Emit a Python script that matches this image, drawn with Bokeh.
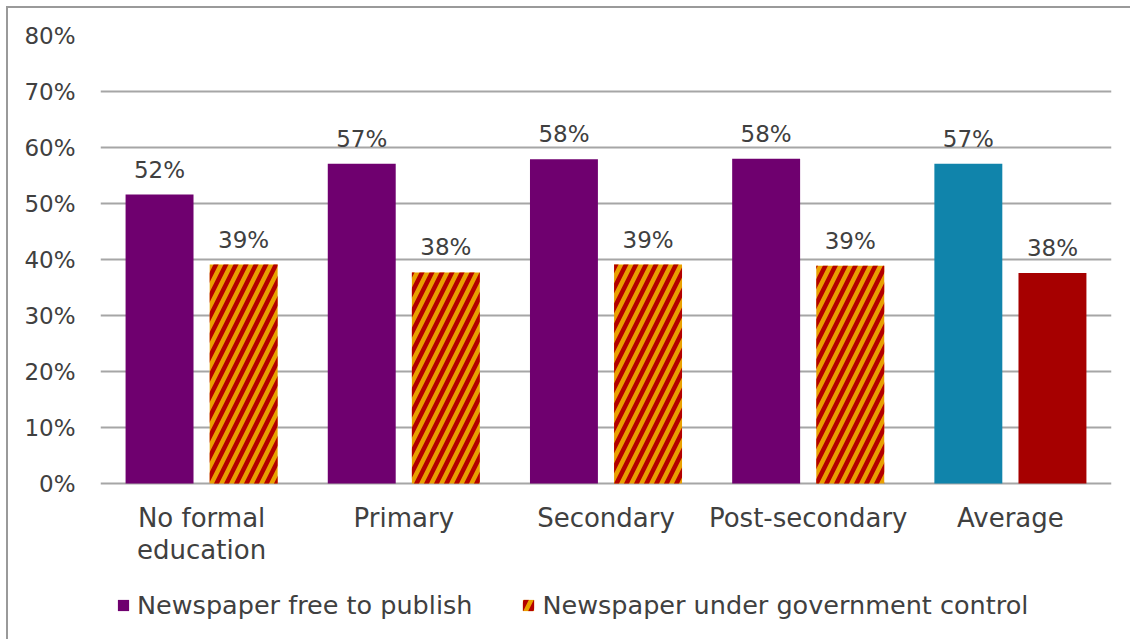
from bokeh.plotting import figure
from bokeh.models import (ColumnDataSource, FactorRange, NumeralTickFormatter,
                          Legend, LegendItem, FixedTicker)
from bokeh.transform import dodge
from bokeh.core.properties import value
from bokeh.embed import file_html
from bokeh.resources import INLINE

categories = ["No formal\neducation", "Primary", "Secondary", "Post-secondary", "Average"]
free_values = [0.516, 0.571, 0.579, 0.580, 0.571]
gov_values = [0.391, 0.377, 0.391, 0.389, 0.376]
series_names = ["Newspaper free to publish", "Newspaper under government control"]
y_ticks = [0, 0.1, 0.2, 0.3, 0.4, 0.5, 0.6, 0.7, 0.8]

FONT = "DejaVu Sans"
TXT = "#404040"
PURPLE = "#6F006F"
ORANGE = "#E9A000"
STRIPE = "#B30000"
TEAL = "#1084AB"
DARKRED = "#A60000"

def labels(vals):
    return [f"{round(v * 100)}%" for v in vals]

main = ColumnDataSource(dict(cat=categories[:4], free=free_values[:4], gov=gov_values[:4],
                             free_lbl=labels(free_values[:4]), gov_lbl=labels(gov_values[:4])))
avg = ColumnDataSource(dict(cat=categories[4:], free=free_values[4:], gov=gov_values[4:],
                            free_lbl=labels(free_values[4:]), gov_lbl=labels(gov_values[4:])))
cats = ColumnDataSource(dict(cat=categories))

# frame extends below zero so the category labels and legend live inside it
p = figure(width=1124, height=633, x_range=FactorRange(*categories, range_padding=0),
           y_range=(-0.2821, 0.8), output_backend="svg", toolbar_location=None,
           min_border_left=92, min_border_right=21, min_border_top=27, min_border_bottom=0)
p.styles = {"margin-left": "6px", "margin-top": "6px",
            "border-left": "2px solid #9A9A9A", "border-top": "2px solid #9A9A9A"}
p.x_range.range_padding = 0
p.outline_line_color = None
p.background_fill_color = "white"
p.border_fill_color = "white"

off = 0.208
w = 0.336
r_free = p.vbar(x=dodge("cat", -off, range=p.x_range), top="free", width=w, source=main,
                fill_color=PURPLE, line_color=None)
r_gov = p.vbar(x=dodge("cat", off, range=p.x_range), top="gov", width=w, source=main,
               fill_color=ORANGE, line_color=None, hatch_pattern="/",
               hatch_color=STRIPE, hatch_weight=4.5, hatch_scale=20)
p.vbar(x=dodge("cat", -off, range=p.x_range), top="free", width=w, source=avg,
       fill_color=TEAL, line_color=None)
p.vbar(x=dodge("cat", off, range=p.x_range), top="gov", width=w, source=avg,
       fill_color=DARKRED, line_color=None)

for src in (main, avg):
    for col, lbl, o in (("free", "free_lbl", -off), ("gov", "gov_lbl", off)):
        p.text(x=dodge("cat", o, range=p.x_range), y=col, text=lbl, source=src,
               text_align="center", text_baseline="middle", y_offset=-25,
               text_font=value(FONT), text_font_size="23px", text_color=TXT)

# category labels
p.text(x="cat", y=0, text="cat", source=cats, text_align="center", text_baseline="top",
       y_offset=19, text_line_height=1.07,
       text_font=value(FONT), text_font_size="26px", text_color=TXT)

p.xaxis.visible = False
p.xgrid.grid_line_color = None
p.ygrid.ticker = FixedTicker(ticks=y_ticks)
p.ygrid.grid_line_color = "#A6A6A6"
p.ygrid.grid_line_width = 2
p.yaxis.ticker = FixedTicker(ticks=y_ticks)
p.yaxis.formatter = NumeralTickFormatter(format="0%")
p.yaxis.axis_line_color = None
p.yaxis.major_tick_line_color = None
p.yaxis.minor_tick_line_color = None
p.yaxis.major_label_text_font = FONT
p.yaxis.major_label_text_font_size = "23px"
p.yaxis.major_label_text_color = TXT
p.yaxis.major_label_standoff = 19

legend = Legend(items=[LegendItem(label=series_names[0], renderers=[r_free]),
                       LegendItem(label=series_names[1], renderers=[r_gov])],
                orientation="horizontal", location=(16, 21),
                label_text_font=FONT, label_text_font_size="25.5px", label_text_color=TXT,
                glyph_width=14, glyph_height=14, label_standoff=7, spacing=49,
                border_line_color=None, background_fill_alpha=0,
                padding=0, margin=0)
p.add_layout(legend)

open("out.html", "w").write(file_html(p, INLINE))
